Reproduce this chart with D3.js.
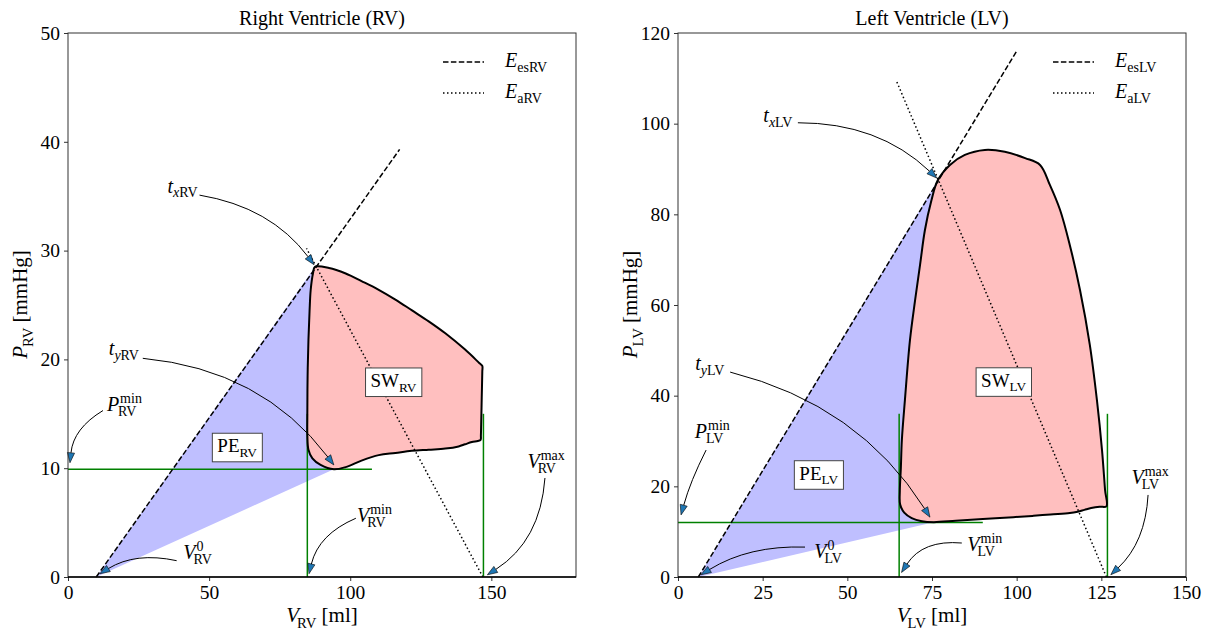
<!DOCTYPE html>
<html>
<head>
<meta charset="utf-8">
<script src="https://cdn.jsdelivr.net/npm/d3@7"></script>
<style>
  body { margin: 0; background: #fff; }
  text { font-family: "Liberation Serif", "DejaVu Serif", serif; fill: #000; white-space: pre; }
</style>
</head>
<body>
<script>
const width = 1208, height = 631;
const plotTop = 33, plotBottom = 577, pw = 508;
const serif = '"Liberation Serif", "DejaVu Serif", serif';

// ---- Right ventricle ----
const rvXTicks = [0, 50, 100, 150];
const rvYTicks = [0, 10, 20, 30, 40, 50];
const rvLoop = [
  [87.5, 28.5], [92.5, 28.4], [98.4, 27.9], [104, 27.2], [110.1, 26.4], [116, 25.5], [121.9, 24.5],
  [127.8, 23.5], [133.7, 22.4], [140.7, 20.9], [145.6, 19.7], [146.8, 19.4], [146.8, 18.9],
  [146.6, 16.5], [146.4, 14], [146.3, 13.0], [146.2, 12.6], [145.2, 12.5], [143.1, 12.4], [140.7, 12.2], [138.4, 12.0], [133.7, 11.8],
  [127.8, 11.7], [121.8, 11.6], [116, 11.4], [110.1, 11.2], [104, 10.7], [98.4, 10.1], [94.2, 9.9],
  [89.5, 10.3], [86.6, 10.9], [85.2, 11.7], [84.8, 13], [84.8, 15], [84.9, 18.5], [85.2, 21.8],
  [85.6, 24.5], [86, 26.4], [86.8, 27.9]
];
const rvEes = [[10, 0], [117.5, 39.3]];
const rvEa = [[147, 0], [84.5, 30.2]];
const rvPmin = 9.9, rvVmin = 84.8, rvVmax = 147.2;
const rvGuide = { hEnd: 107.7, vTop: 15 };

// ---- Left ventricle ----
const lvXTicks = [0, 25, 50, 75, 100, 125, 150];
const lvYTicks = [0, 20, 40, 60, 80, 100, 120];
const lvLoop = [
  [76.7, 87.5], [80.3, 90.9], [84.7, 93.1], [90.6, 94.2], [96.5, 93.8], [102.5, 92.4], [106.9, 90.9],
  [109.8, 86.5], [112.8, 81], [115.7, 73.2], [118.7, 63.3], [121.6, 51.2], [123.7, 39], [125.2, 28],
  [126.1, 19.2], [126.5, 15.6],
  [124.5, 15.5], [122, 15.2], [120, 14.8], [118, 14.4], [115.7, 14.1], [110, 13.8], [105, 13.5],
  [99, 13.2], [90, 12.8], [82, 12.4], [75.5, 12.1],
  [72, 12.3], [69, 13], [66.8, 14.2], [65.6, 16], [65.5, 19], [65.8, 24], [66.1, 30.2], [67, 39],
  [68.5, 52.3], [70, 61], [71.5, 69], [72.9, 76.5], [74.8, 83]
];
const lvEes = [[6, 0], [100, 116]];
const lvEa = [[126.5, 0], [64.4, 109.6]];
const lvPmin = 12.0, lvVmin = 65.3, lvVmax = 126.8;
const lvGuide = { hEnd: 90, vTop: 36 };

// label pieces
const sub = (t, it) => ({ t, it, pos: 'sub' });
const sup = t => ({ t, pos: 'sup' });
const base = (t, it) => ({ t, it, pos: 'base' });

function annots(vn) {
  return [
    { segs: [base('t', true), sub('x', true), sub(vn)] },
    { segs: [base('t', true), sub('y', true), sub(vn)] },
    { segs: [base('P', true), { ...sub(vn), dx: -1 }, { ...sup('min'), dx: 1 }] },
    { segs: [base('V', true), { ...sub(vn), dx: -2 }, { ...sup('0'), dx: 1 }] },
    { segs: [base('V', true), { ...sub(vn), dx: -2 }, { ...sup('min'), dx: 1 }] },
    { segs: [base('V', true), { ...sub(vn), dx: -2 }, { ...sup('max'), dx: 1 }] }
  ];
}
// text centre, arrow start, arrow end (data units), curvature
const rvArrows = [
  { text: [40.6, 35.8], from: [46.6, 35.1], to: [87.2, 28.7], rad: 0.2 },
  { text: [19.8, 20.9], from: [26.5, 20.1], to: [94.2, 10.3], rad: 0.22 },
  { text: [19.8, 15.8], from: [12.4, 15.3], to: [0.7, 10.5], rad: -0.25 },
  { text: [45.9, 2.2], from: [38.5, 1.5], to: [11.3, 0.3], rad: -0.2 },
  { text: [108.6, 5.6], from: [102, 5.4], to: [85.4, 0.3], rad: -0.25 },
  { text: [169.4, 10.6], from: [169, 9.1], to: [148.6, 0.2], rad: 0.25 }
];
const lvArrows = [
  { text: [29.5, 101.5], from: [35.4, 100.2], to: [76.4, 88], rad: 0.2 },
  { text: [9.4, 46.8], from: [15.4, 45.2], to: [74.4, 13.2], rad: 0.2 },
  { text: [10, 32], from: [8.3, 28], to: [0.9, 13.7], rad: -0.05 },
  { text: [44.3, 5.5], from: [37.5, 6.6], to: [6.8, 0.5], rad: -0.15 },
  { text: [90.6, 7.1], from: [83.8, 7.5], to: [66, 1], rad: -0.3 },
  { text: [139.4, 21.8], from: [138.8, 18.1], to: [127.8, 0.5], rad: 0.2 }
];

const svg = d3.select('body').append('svg').attr('width', width).attr('height', height);

function mathText(parent, segs, fs) {
  const g = parent.append('g');
  let cx = 0, lastStart = 0, lastPos = null;
  segs.forEach(s => {
    const pos = s.pos || 'base';
    const size = pos === 'base' ? fs : fs * 0.7;
    const dy = pos === 'sub' ? fs * 0.24 : pos === 'sup' ? -fs * 0.42 : 0;
    let x0 = cx;
    if ((pos === 'sup' && lastPos === 'sub') || (pos === 'sub' && lastPos === 'sup')) x0 = lastStart;
    const t = g.append('text').attr('x', x0 + (s.dx || 0)).attr('y', dy)
      .attr('font-size', size).attr('font-style', s.it ? 'italic' : 'normal').text(s.t);
    const w = t.node().getComputedTextLength() + (s.dx || 0);
    cx = Math.max(cx, x0 + w);
    lastStart = x0; lastPos = pos;
  });
  return g;
}

function centreAt(g, cx, cy) {
  const b = g.node().getBBox();
  g.attr('transform', `translate(${cx - b.x - b.width / 2},${cy - b.y - b.height / 2})`);
}

function drawPanel(p) {
  const x = d3.scaleLinear().domain(p.xDomain).range([p.left, p.left + pw]);
  const y = d3.scaleLinear().domain(p.yDomain).range([plotBottom, plotTop]);
  const line = d3.line().x(d => x(d[0])).y(d => y(d[1]));
  const g = svg.append('g');

  // potential energy and stroke work areas
  const minIdx = d3.minIndex(p.loop, d => d[1]);
  const pe = [p.ees[0], ...p.loop.slice(minIdx), p.loop[0]];
  g.append('path').attr('d', line(pe) + 'Z').attr('fill', '#bfbfff');
  const loopPath = line.curve(d3.curveCatmullRomClosed)(p.loop);
  line.curve(d3.curveLinear);
  g.append('path').attr('d', loopPath).attr('fill', '#ffbfbf');

  // guide lines
  const green = '#008000';
  g.append('path').attr('d', line([[0, p.pmin], [p.guide.hEnd, p.pmin]])).attr('stroke', green).attr('stroke-width', 1.5).attr('fill', 'none');
  [p.vmin, p.vmax].forEach(v => {
    g.append('path').attr('d', line([[v, 0], [v, p.guide.vTop]])).attr('stroke', green).attr('stroke-width', 1.5).attr('fill', 'none');
  });

  // elastance lines
  g.append('path').attr('d', line(p.ees)).attr('stroke', '#000').attr('stroke-width', 1.5)
    .attr('stroke-dasharray', '5.5,2.4').attr('fill', 'none');
  g.append('path').attr('d', line(p.ea)).attr('stroke', '#000').attr('stroke-width', 1.5)
    .attr('stroke-dasharray', '1.5,2.5').attr('fill', 'none');

  // loop outline
  g.append('path').attr('d', loopPath).attr('fill', 'none').attr('stroke', '#000').attr('stroke-width', 2);

  // boxed labels
  p.boxes.forEach(bx => {
    const bg = g.append('g');
    const rect = bg.append('rect');
    const mt = mathText(bg, [base(bx.name), sub(p.vn)], 19);
    const b = mt.node().getBBox();
    rect.attr('x', b.x - 5).attr('y', b.y - 2).attr('width', b.width + 10).attr('height', b.height + 4)
      .attr('fill', '#fff').attr('stroke', '#444').attr('stroke-width', 1);
    centreAt(bg, x(bx.at[0]), y(bx.at[1]));
  });

  // annotations with curved arrows
  const labels = annots(p.vn);
  p.arrows.forEach((a, i) => {
    const s = [x(a.from[0]), y(a.from[1])], e = [x(a.to[0]), y(a.to[1])];
    const dx = e[0] - s[0], dy = e[1] - s[1];
    const c = [(s[0] + e[0]) / 2 + a.rad * dy, (s[1] + e[1]) / 2 - a.rad * dx];
    let tx = e[0] - c[0], ty = e[1] - c[1];
    const L = Math.hypot(tx, ty); tx /= L; ty /= L;
    const hl = 10, hw = 3.6;
    const bpt = [e[0] - tx * hl, e[1] - ty * hl];
    g.append('path').attr('d', `M${s[0]},${s[1]}Q${c[0]},${c[1]} ${bpt[0]},${bpt[1]}`)
      .attr('fill', 'none').attr('stroke', '#000').attr('stroke-width', 1);
    g.append('path')
      .attr('d', `M${e[0]},${e[1]}L${bpt[0] - ty * hw},${bpt[1] + tx * hw}L${bpt[0] + ty * hw},${bpt[1] - tx * hw}Z`)
      .attr('fill', '#1f77b4').attr('stroke', '#000').attr('stroke-width', 0.6);
    const lg = mathText(g, labels[i].segs, 20);
    centreAt(lg, x(a.text[0]), y(a.text[1]));
  });

  // axes
  const xa = g.append('g').attr('transform', `translate(0,${plotBottom})`)
    .call(d3.axisBottom(x).tickValues(p.xTicks).tickSize(4).tickPadding(4).tickFormat(d3.format('d')));
  const ya = g.append('g').attr('transform', `translate(${p.left},0)`)
    .call(d3.axisLeft(y).tickValues(p.yTicks).tickSize(4).tickPadding(4).tickFormat(d3.format('d')));
  [xa, ya].forEach(ax => {
    ax.select('.domain').remove();
    ax.attr('font-family', serif).attr('font-size', 19.5);
    ax.selectAll('line').attr('stroke', '#333');
  });
  g.append('rect').attr('x', p.left).attr('y', plotTop).attr('width', pw).attr('height', plotBottom - plotTop)
    .attr('fill', 'none').attr('stroke', '#333').attr('stroke-width', 1);
  g.append('path').attr('d', line([[p.xDomain[0], 0], [p.xDomain[1], 0]])).attr('stroke', '#000').attr('stroke-width', 1.5);

  // legend
  const lx = p.left + pw;
  [['5.5,2.4', 'es'], ['1.5,2.5', 'a']].forEach((r, i) => {
    const ly = plotTop + 29 + i * 31;
    g.append('line').attr('x1', lx - 133).attr('x2', lx - 92).attr('y1', ly).attr('y2', ly)
      .attr('stroke', '#000').attr('stroke-width', 1.5).attr('stroke-dasharray', r[0]);
    const t = mathText(g, [base('E', true), sub(r[1] + p.vn)], 20);
    const b = t.node().getBBox();
    t.attr('transform', `translate(${lx - 72 - b.x},${ly - b.y - b.height / 2})`);
  });

  // title and axis labels
  g.append('text').attr('x', p.left + pw / 2).attr('y', 25).attr('text-anchor', 'middle')
    .attr('font-size', 20).text(p.title);
  const xl = mathText(g, [base('V', true), { ...sub(p.vn), dx: -2 }, base('\u00a0[ml]')], 21);
  centreAt(xl, p.left + pw / 2, 617);
  const yg = g.append('g');
  const yl = mathText(yg, [base('P', true), { ...sub(p.vn), dx: -1 }, base('\u00a0[mmHg]')], 21);
  centreAt(yl, 0, 0);
  yg.attr('transform', `translate(${p.left - 46},${(plotTop + plotBottom) / 2}) rotate(-90)`);
}

drawPanel({
  left: 68, xDomain: [0, 180], yDomain: [0, 50], xTicks: rvXTicks, yTicks: rvYTicks,
  loop: rvLoop, ees: rvEes, ea: rvEa, pmin: rvPmin, vmin: rvVmin, vmax: rvVmax, guide: rvGuide,
  vn: 'RV', title: 'Right Ventricle (RV)', arrows: rvArrows,
  boxes: [{ name: 'PE', at: [60, 11.9] }, { name: 'SW', at: [115.4, 17.9] }]
});
drawPanel({
  left: 678, xDomain: [0, 150], yDomain: [0, 120], xTicks: lvXTicks, yTicks: lvYTicks,
  loop: lvLoop, ees: lvEes, ea: lvEa, pmin: lvPmin, vmin: lvVmin, vmax: lvVmax, guide: lvGuide,
  vn: 'LV', title: 'Left Ventricle (LV)', arrows: lvArrows,
  boxes: [{ name: 'PE', at: [41.6, 22.5] }, { name: 'SW', at: [96.2, 43] }]
});
</script>
</body>
</html>
